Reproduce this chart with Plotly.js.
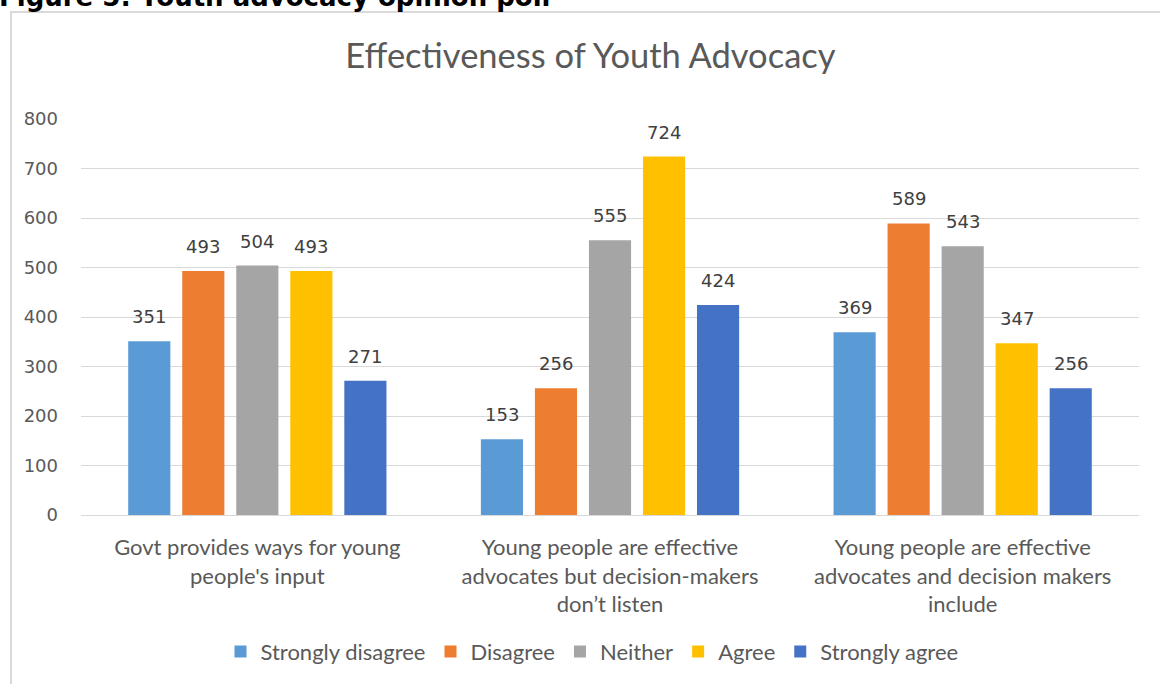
<!DOCTYPE html>
<html>
<head>
<meta charset="utf-8">
<script src="https://cdn.plot.ly/plotly-3.0.1.min.js"></script>
<style>html,body{margin:0;padding:0;background:#fff;}#chart{width:1160px;height:684px;}</style>
</head>
<body>
<div id="chart"></div>
<script>
var categories = [
  "Govt provides ways for young<br>people's input",
  "Young people are effective<br>advocates but decision-makers<br>don\u2019t listen",
  "Young people are effective<br>advocates and decision makers<br>include"
];
var seriesNames = ["Strongly disagree", "Disagree", "Neither", "Agree", "Strongly agree"];
var stronglyDisagree = [351, 153, 369];
var disagree = [493, 256, 589];
var neither = [504, 555, 543];
var agree = [493, 724, 347];
var stronglyAgree = [271, 424, 256];
var seriesColors = ["#5B9BD5", "#ED7D31", "#A5A5A5", "#FFC000", "#4472C4"];
var yTicks = [0, 100, 200, 300, 400, 500, 600, 700, 800];

var W = 1160, H = 684;
var M = {l: 81, r: 21, t: 119, b: 169};
var plotW = W - M.l - M.r, plotH = H - M.t - M.b;
var bargap = 0.234;

var allValues = [stronglyDisagree, disagree, neither, agree, stronglyAgree];
var traces = allValues.map(function (vals, i) {
  return {
    type: 'bar',
    name: seriesNames[i],
    x: categories,
    y: vals,
    marker: {color: seriesColors[i]},
    hoverinfo: 'skip'
  };
});

// value labels above bars, positioned via the axes (category + value)
var pitch = (plotW / categories.length) * (1 - bargap) / allValues.length;
var annotations = [];
allValues.forEach(function (vals, i) {
  vals.forEach(function (v, j) {
    annotations.push({
      x: categories[j], y: v, xref: 'x', yref: 'y',
      text: String(v),
      showarrow: false,
      xanchor: 'center', yanchor: 'bottom',
      xshift: (i - (allValues.length - 1) / 2) * pitch,
      yshift: 12,
      font: {family: 'DejaVu Sans', size: 18, color: '#404040'}
    });
  });
});

annotations.push({
  text: '<b>Figure 5: Youth advocacy opinion poll</b>',
  xref: 'paper', yref: 'paper',
  x: -84 / plotW, xanchor: 'left',
  y: 1 + (M.t - 14) / plotH, yanchor: 'bottom',
  showarrow: false,
  font: {family: 'DejaVu Sans', size: 26, color: '#000000'}
});

var layout = {
  width: W,
  height: H,
  paper_bgcolor: '#ffffff',
  plot_bgcolor: '#ffffff',
  margin: {l: M.l, r: M.r, t: M.t, b: M.b, pad: 0},
  barmode: 'group',
  bargap: bargap,
  bargroupgap: 0.22,
  showlegend: true,
  title: {
    text: 'Effectiveness of Youth Advocacy',
    font: {family: 'Lato', size: 34.5, color: '#595959'},
    x: 0.509, xanchor: 'center',
    y: 0.918, yanchor: 'middle', yref: 'container'
  },
  xaxis: {
    tickfont: {family: 'Lato', size: 22, color: '#595959'},
    showline: false,
    showgrid: false,
    ticks: '',
    ticklabelstandoff: 17
  },
  yaxis: {
    range: [0, 800],
    tickvals: yTicks,
    ticktext: yTicks.map(String),
    tickfont: {family: 'DejaVu Sans', size: 18, color: '#595959'},
    gridcolor: '#D9D9D9',
    gridwidth: 1,
    zeroline: true,
    zerolinecolor: '#D9D9D9',
    zerolinewidth: 1,
    showline: false,
    ticks: '',
    ticklabelstandoff: 22
  },
  legend: {
    orientation: 'h',
    x: 0.5 - 18 / plotW, xanchor: 'center',
    y: -0.345, yanchor: 'middle',
    font: {family: 'Lato', size: 22, color: '#595959'},
    itemwidth: 30,
    traceorder: 'normal'
  },
  shapes: [{
    type: 'rect', xref: 'paper', yref: 'paper',
    x0: -70 / plotW, x1: 1.1, y0: -1, y1: 1 + 107 / plotH,
    line: {color: '#D9D9D9', width: 2},
    fillcolor: 'rgba(0,0,0,0)'
  }],
  annotations: annotations
};

Plotly.newPlot('chart', traces, layout, {displayModeBar: false, staticPlot: true});
</script>
</body>
</html>
